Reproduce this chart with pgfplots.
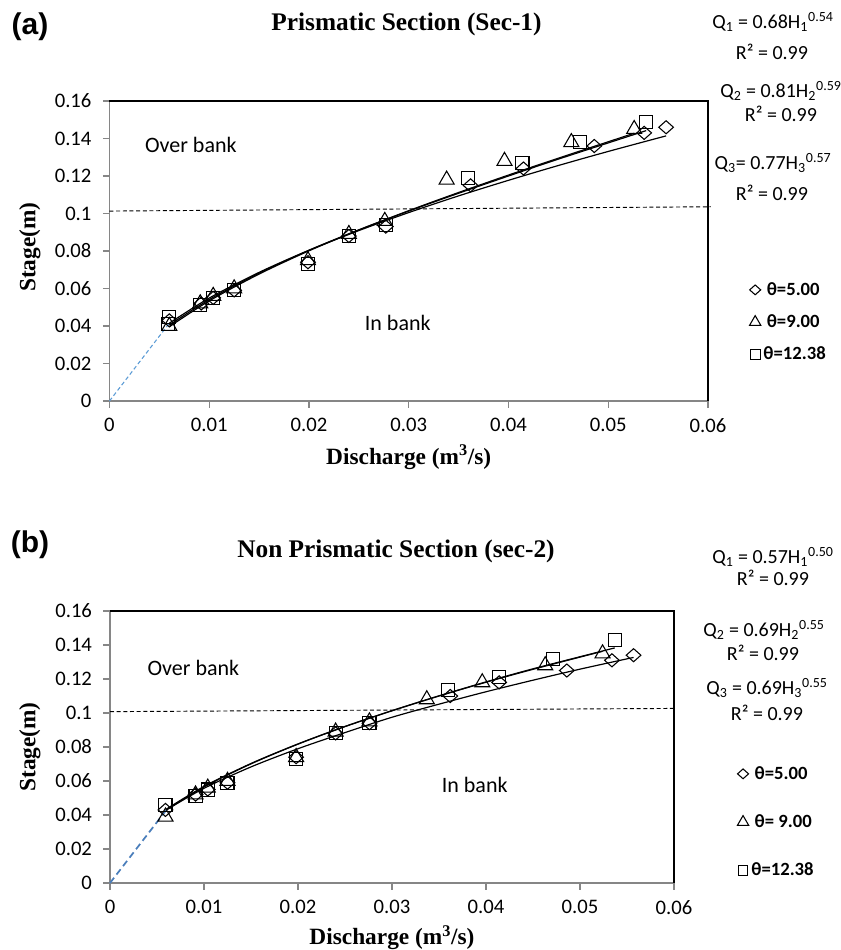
\documentclass[border=0pt]{standalone}
\usepackage{fontspec}
\setmainfont{Carlito}
\newfontfamily\timesfont{Liberation Serif}
\newfontfamily\arialfont{Liberation Sans}
\usepackage{pgfplots}
\pgfplotsset{compat=1.18}

\definecolor{xlblue}{HTML}{5B9BD5}
\definecolor{xlblue2}{HTML}{4A7EBB}
\definecolor{axgray}{HTML}{868686}

\newcommand{\eqfont}{\fontsize{15}{17}\selectfont}

\pgfplotsset{
  rating/.style={
    scale only axis,
    xmin=0, xmax=0.06, ymin=0, ymax=0.16,
    xtick={0,0.01,0.02,0.03,0.04,0.05,0.06},
    ytick={0,0.02,0.04,0.06,0.08,0.1,0.12,0.14,0.16},
    scaled ticks=false,
    /pgf/number format/fixed,
    /pgf/number format/assume math mode=true,
    tick label style={font=\fontsize{15.5}{18}\selectfont},
    xticklabel style={yshift=-4.5pt},
    yticklabel style={xshift=-5pt},
    axis lines*=left,
    axis line style={axgray, line width=1.2pt},
    tick align=outside,
    major tick length=5pt,
    tick style={axgray, line width=0.8pt},
    clip=false,
    label style={font=\timesfont\bfseries\fontsize{17.5}{20}\selectfont},
    xlabel={Discharge (m\textsuperscript{3}/s)},
    ylabel={Stage(m)},
    legend cell align=left,
    legend image code/.code={\draw[#1,every mark/.append style={scale=0.75}] plot coordinates {(0.1cm,0cm)};},
    after end axis/.code={\draw[black,line width=0.8pt] (rel axis cs:0,1)--(rel axis cs:1,1)--(rel axis cs:1,0);},
  },
  dmd/.style={only marks, mark=diamond, mark size=4.9pt, mark options={solid, black, xscale=1.5, line width=0.8pt}},
  tri/.style={only marks, mark=triangle, mark size=6.5pt, mark options={solid, black, line width=0.8pt}},
  sqr/.style={only marks, mark=square, mark size=4.9pt, mark options={solid, black, line width=0.8pt}},
  trend/.style={black, line width=0.9pt, smooth, no marks, forget plot},
}

\begin{document}
\begin{tikzpicture}
\useasboundingbox (0,0) rectangle (630.75pt,-712.5pt);

% (a) prismatic section
\begin{axis}[rating,
  at={(82.1pt,-300.75pt)}, anchor=south west,
  width=448.9pt, height=225pt,
  xlabel style={at={(axis description cs:0.5,-0.187)}, anchor=center},
  ylabel style={at={(axis description cs:-0.133,0.513)}, anchor=center},
  legend style={draw=none, fill=none, at={(1.069,0.263)}, anchor=west,
    row sep=9pt, inner sep=0pt, font=\fontsize{14}{16}\selectfont\bfseries},
]
\addplot[black, line width=0.7pt, dash pattern=on 3pt off 2pt, forget plot]
  coordinates {(0,0.1013) (0.0603,0.1036)};
\addplot[xlblue, line width=0.8pt, dash pattern=on 3pt off 2pt, forget plot]
  coordinates {(0,0) (0.006,0.0415)};

\addplot[trend] coordinates {(0.006,0.0415) (0.010,0.0549) (0.015,0.0686) (0.020,0.0804) (0.025,0.0909) (0.030,0.1005) (0.035,0.1094) (0.040,0.1177) (0.045,0.1256) (0.050,0.1331) (0.0558,0.1414)};
\addplot[trend] coordinates {(0.006,0.0396) (0.010,0.0534) (0.015,0.0677) (0.020,0.0801) (0.025,0.0912) (0.030,0.1015) (0.035,0.1112) (0.040,0.1205) (0.045,0.1295) (0.0526,0.1428)};
\addplot[trend] coordinates {(0.006,0.0405) (0.010,0.0541) (0.015,0.0682) (0.020,0.0804) (0.025,0.0913) (0.030,0.1013) (0.035,0.1108) (0.040,0.1200) (0.045,0.1290) (0.0538,0.1442)};

\addplot[dmd] coordinates {(0.0060,0.043) (0.0092,0.052) (0.0104,0.055) (0.0125,0.059) (0.0199,0.074) (0.0240,0.088) (0.0277,0.093) (0.0362,0.115) (0.0415,0.124) (0.0486,0.136) (0.0536,0.143) (0.0558,0.146)};
\addlegendentry{\hspace{2.5pt}θ=5.00}
\addplot[tri] coordinates {(0.0060,0.040) (0.0091,0.052) (0.0104,0.056) (0.0125,0.060) (0.0199,0.075) (0.0240,0.089) (0.0276,0.096) (0.0338,0.118) (0.0396,0.128) (0.0463,0.138) (0.0526,0.145)};
\addlegendentry{\hspace{2.5pt}θ=9.00}
\addplot[sqr] coordinates {(0.0059,0.041) (0.0060,0.045) (0.0091,0.051) (0.0104,0.055) (0.0125,0.059) (0.0199,0.073) (0.0240,0.088) (0.0277,0.094) (0.0359,0.119) (0.0414,0.127) (0.0472,0.138) (0.0538,0.149)};
\addlegendentry{θ=12.38}

\node[anchor=west, font=\fontsize{16.5}{20}\selectfont] at (axis cs:0.0031,0.1365) {Over bank};
\node[font=\fontsize{16.5}{20}\selectfont] at (axis cs:0.0289,0.0416) {In bank};
\end{axis}

% (b) non prismatic section
\begin{axis}[rating,
  at={(82.5pt,-662.25pt)}, anchor=south west,
  width=423pt, height=204pt,
  xlabel style={at={(axis description cs:0.5,-0.202)}, anchor=center},
  ylabel style={at={(axis description cs:-0.142,0.5)}, anchor=center},
  legend style={draw=none, fill=none, at={(1.112,0.224)}, anchor=west,
    row sep=21pt, inner sep=0pt, font=\fontsize{14}{16}\selectfont\bfseries},
]
\addplot[black, line width=0.7pt, dash pattern=on 3pt off 2pt, forget plot]
  coordinates {(0,0.1008) (0.0600,0.1027)};
\addplot[xlblue2, line width=1.3pt, dash pattern=on 5pt off 3pt, forget plot]
  coordinates {(0,0) (0.006,0.043)};

\addplot[trend] coordinates {(0.006,0.0430) (0.010,0.0557) (0.015,0.0683) (0.020,0.0790) (0.025,0.0885) (0.030,0.0975) (0.035,0.1052) (0.040,0.1125) (0.045,0.1193) (0.050,0.1258) (0.0557,0.1327)};
\addplot[trend] coordinates {(0.006,0.0430) (0.010,0.0565) (0.015,0.0701) (0.020,0.0817) (0.025,0.0920) (0.030,0.1013) (0.035,0.1100) (0.040,0.1181) (0.045,0.1257) (0.0524,0.1363)};
\addplot[trend] coordinates {(0.006,0.0435) (0.010,0.0568) (0.015,0.0703) (0.020,0.0818) (0.025,0.0921) (0.030,0.1014) (0.035,0.1101) (0.040,0.1183) (0.045,0.1260) (0.0537,0.1383)};

\addplot[dmd] coordinates {(0.0059,0.043) (0.0091,0.052) (0.0104,0.055) (0.0125,0.059) (0.0198,0.074) (0.0240,0.088) (0.0276,0.094) (0.0362,0.110) (0.0414,0.118) (0.0486,0.125) (0.0534,0.131) (0.0557,0.134)};
\addlegendentry{\hspace{2.5pt}θ=5.00}
\addplot[tri] coordinates {(0.0059,0.039) (0.0091,0.052) (0.0104,0.056) (0.0125,0.060) (0.0198,0.074) (0.0240,0.089) (0.0276,0.095) (0.0337,0.108) (0.0396,0.118) (0.0463,0.128) (0.0524,0.135)};
\addlegendentry{\hspace{2.5pt}θ= 9.00}
\addplot[sqr] coordinates {(0.0059,0.046) (0.0091,0.051) (0.0104,0.055) (0.0125,0.059) (0.0198,0.073) (0.0240,0.088) (0.0276,0.094) (0.0360,0.1135) (0.0414,0.121) (0.0471,0.132) (0.0537,0.143)};
\addlegendentry{θ=12.38}

\node[anchor=west, font=\fontsize{16.5}{20}\selectfont] at (axis cs:0.0035,0.1265) {Over bank};
\node[font=\fontsize{16.5}{20}\selectfont] at (axis cs:0.0388,0.0576) {In bank};
\end{axis}

% titles, panel letters and fitted equations (pixel units)
\begin{scope}[x=0.75pt,y=-0.75pt]
\node[font=\arialfont\bfseries\fontsize{22.5}{26}\selectfont] at (30,27) {(a)};
\node[font=\timesfont\bfseries\fontsize{19}{22}\selectfont] at (406.5,24) {Prismatic Section (Sec-1)};
\node[font=\eqfont] at (773,22) {Q\textsubscript{1} = 0.68H\textsubscript{1}\textsuperscript{0.54}};
\node[font=\eqfont] at (772,52) {R² = 0.99};
\node[font=\eqfont] at (781,91) {Q\textsubscript{2} = 0.81H\textsubscript{2}\textsuperscript{0.59}};
\node[font=\eqfont] at (781,114) {R² = 0.99};
\node[font=\eqfont] at (773,163) {Q\textsubscript{3}= 0.77H\textsubscript{3}\textsuperscript{0.57}};
\node[font=\eqfont] at (772,193) {R² = 0.99};

\node[font=\arialfont\bfseries\fontsize{22.5}{26}\selectfont] at (30,545) {(b)};
\node[font=\timesfont\bfseries\fontsize{19}{22}\selectfont] at (396,551) {Non Prismatic Section (sec-2)};
\node[font=\eqfont] at (773,557) {Q\textsubscript{1} = 0.57H\textsubscript{1}\textsuperscript{0.50}};
\node[font=\eqfont] at (773,578) {R² = 0.99};
\node[font=\eqfont] at (764,630) {Q\textsubscript{2} = 0.69H\textsubscript{2}\textsuperscript{0.55}};
\node[font=\eqfont] at (763,653) {R² = 0.99};
\node[font=\eqfont] at (767,688) {Q\textsubscript{3} = 0.69H\textsubscript{3}\textsuperscript{0.55}};
\node[font=\eqfont] at (767,713) {R² = 0.99};
\end{scope}
\end{tikzpicture}
\end{document}
